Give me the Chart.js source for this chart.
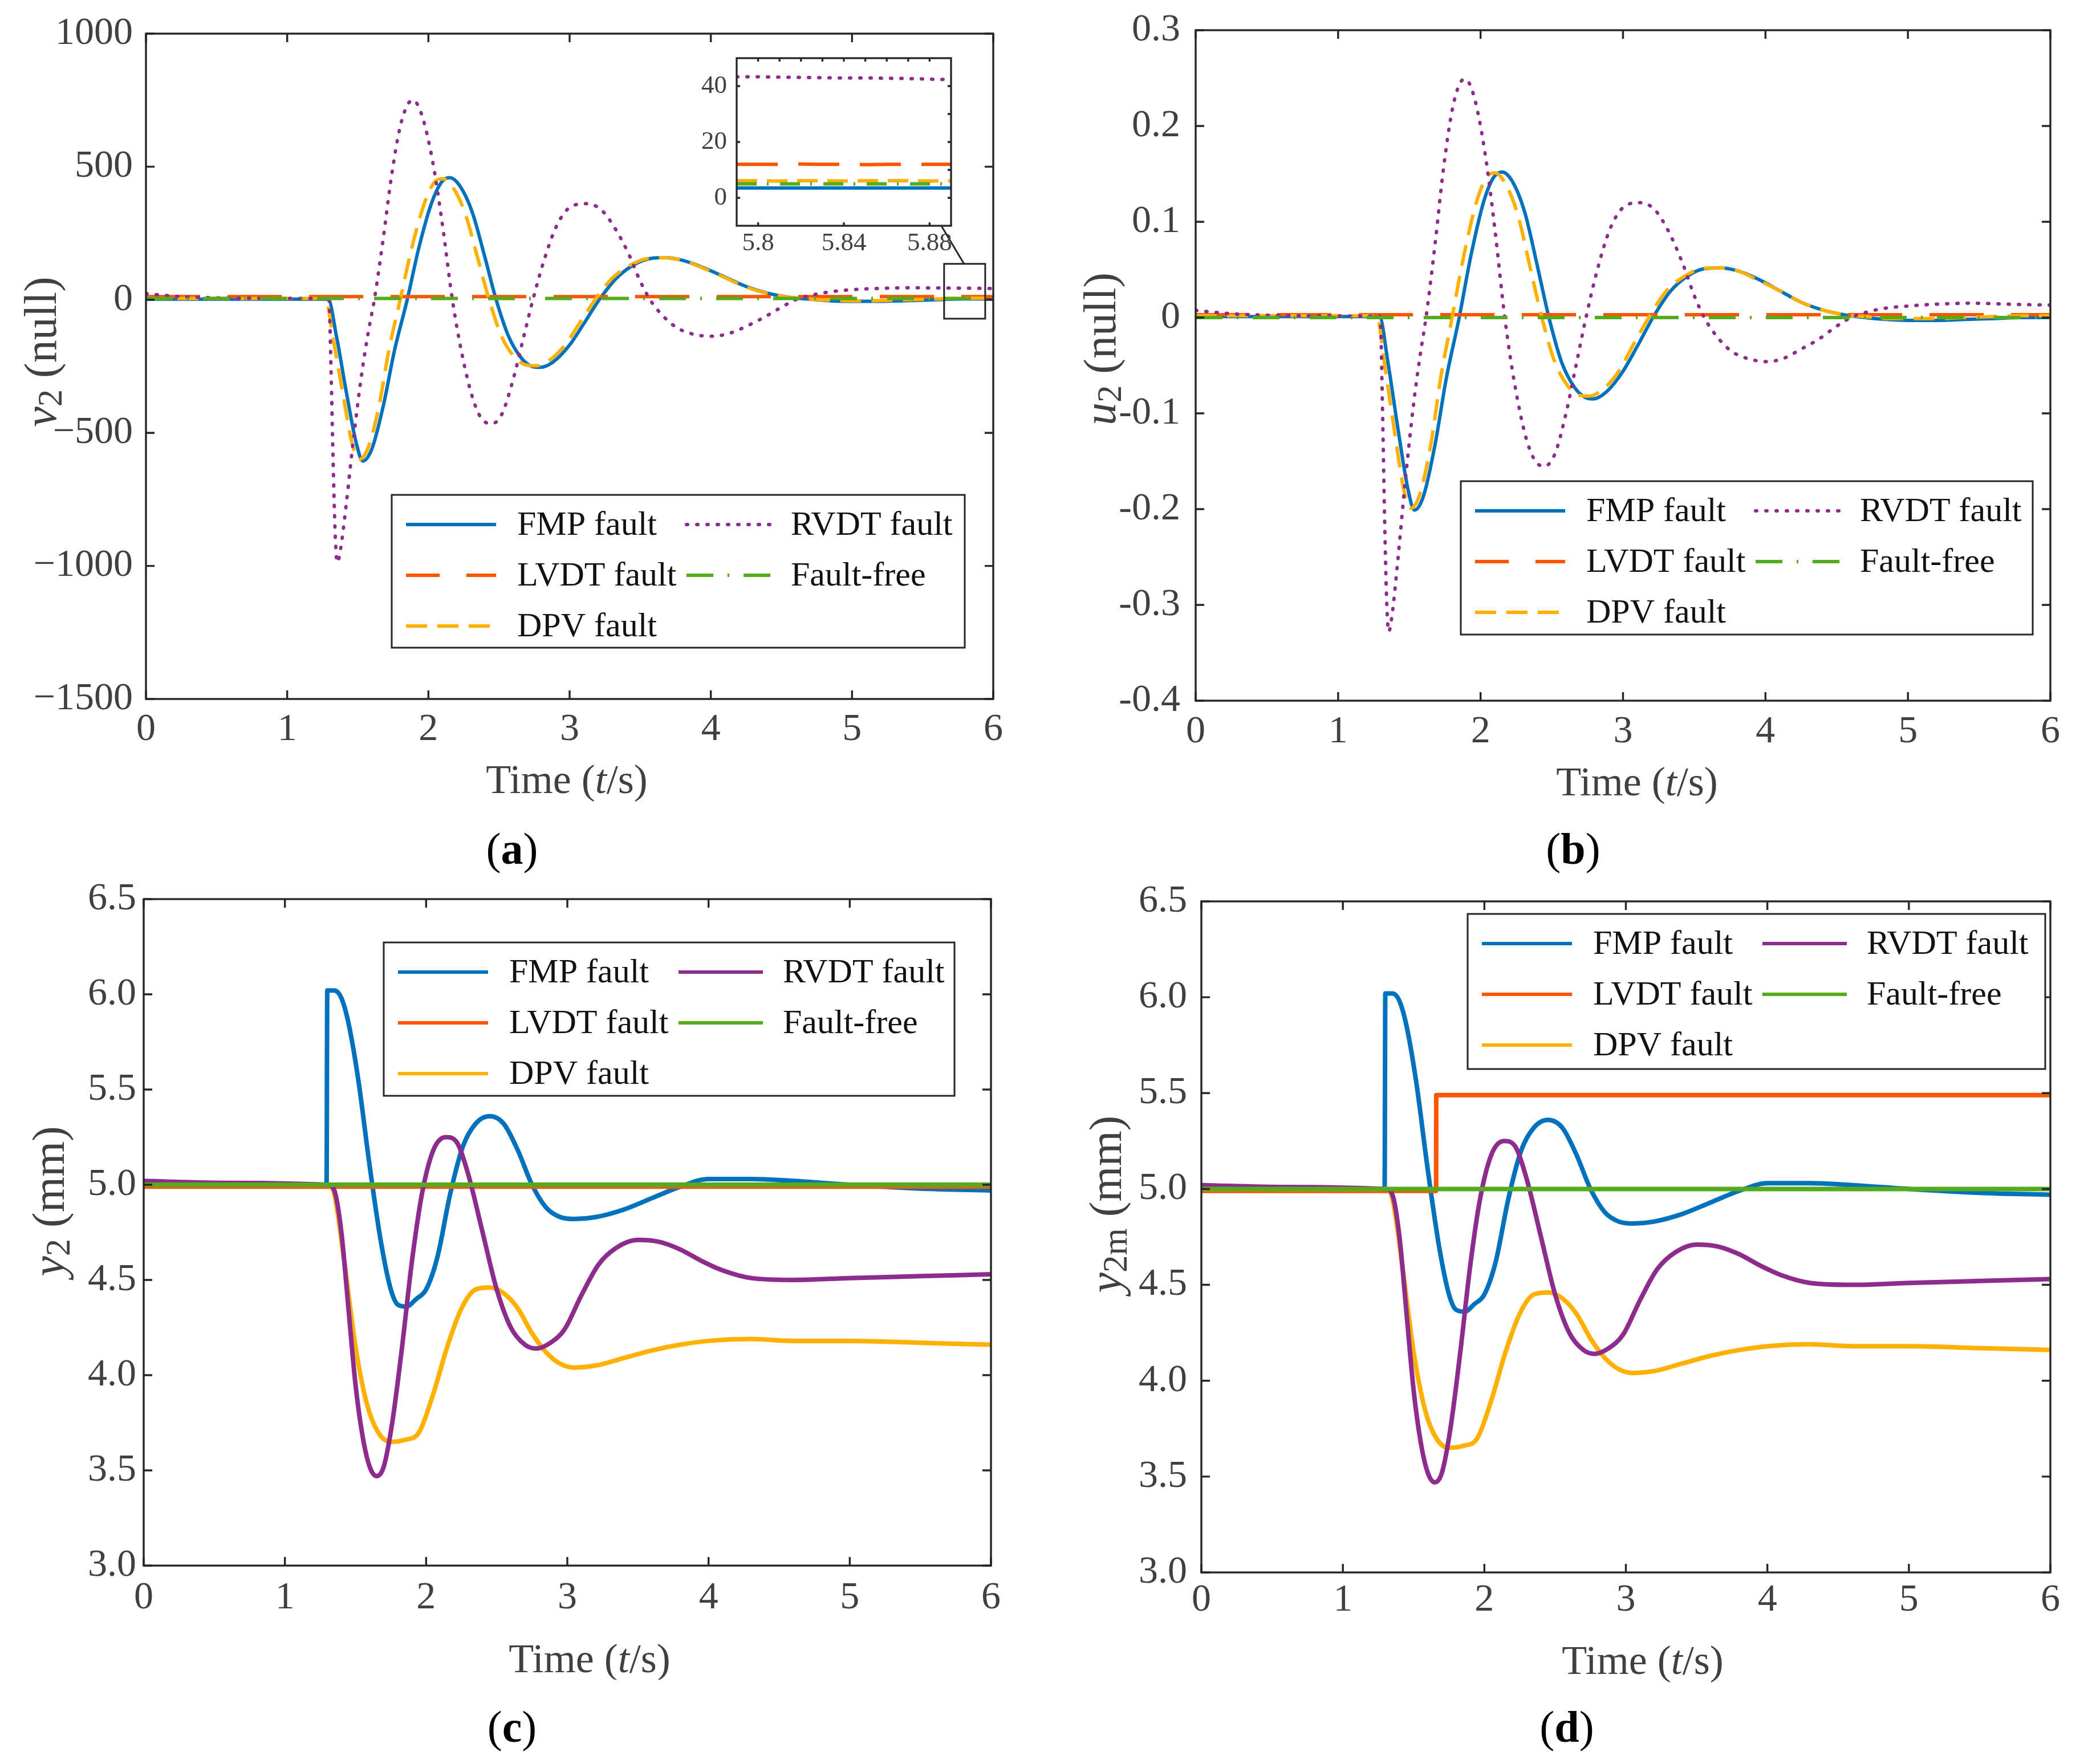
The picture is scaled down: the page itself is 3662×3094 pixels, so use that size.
<!DOCTYPE html>
<html><head><meta charset="utf-8">
<script src="https://cdn.jsdelivr.net/npm/chart.js@4.4.1/dist/chart.umd.min.js"></script>
<style>
html,body{margin:0;padding:0;background:#fff;}
body{width:3662px;height:3094px;position:relative;overflow:hidden;font-family:"Liberation Serif","Times New Roman",serif;}
canvas{position:absolute;}
.plabel{position:absolute;font-size:78px;color:#000;transform:translate(-50%,-50%);white-space:nowrap;line-height:1;}
</style></head><body>
<div class="plabel" style="left:898px;top:1489px">(<b>a</b>)</div>
<div class="plabel" style="left:2759px;top:1489px">(<b>b</b>)</div>
<div class="plabel" style="left:898px;top:3029px">(<b>c</b>)</div>
<div class="plabel" style="left:2748px;top:3029px">(<b>d</b>)</div>
<script>
// ================= DATA =================
const seriesNames = ['FMP fault', 'LVDT fault', 'DPV fault', 'RVDT fault', 'Fault-free'];
const xTicks = [0, 1, 2, 3, 4, 5, 6];
const yTicksA = [-1500, -1000, -500, 0, 500, 1000];
const yTicksB = [-0.4, -0.3, -0.2, -0.1, 0, 0.1, 0.2, 0.3];
const yTicksC = [3.0, 3.5, 4.0, 4.5, 5.0, 5.5, 6.0, 6.5];
const xTicksInset = [5.8, 5.84, 5.88];
const xMinorInset = [5.80, 5.81, 5.82, 5.83, 5.84, 5.85, 5.86, 5.87, 5.88];
const yTicksInset = [0, 20, 40];
const yMinorInset = [0, 10, 20, 30, 40];

// (a) v2
const tA_FMP = [0, 0.6, 1.29, 1.35, 1.42, 1.49, 1.536, 1.60, 1.68, 1.76, 1.85, 1.93, 2.02, 2.09, 2.15, 2.22, 2.31, 2.40, 2.48, 2.57, 2.66, 2.73, 2.79, 2.88, 3.00, 3.10, 3.21, 3.33, 3.45, 3.57, 3.68, 3.80, 3.95, 4.10, 4.25, 4.40, 4.55, 4.70, 4.85, 5.00, 5.20, 5.40, 5.60, 5.80, 6.00];
const vA_FMP = [2, 2, 2, -140, -350, -540, -606, -560, -400, -190, 0, 190, 360, 440, 459, 430, 330, 160, 0, -140, -220, -250, -254, -235, -170, -90, 0, 80, 130, 155, 158, 148, 120, 85, 50, 25, 10, 2, -4, -6, -6, -3, 0, 3.5, 3.5];
const tA_DPV = [0, 0.6, 1.27, 1.33, 1.40, 1.46, 1.51, 1.57, 1.65, 1.72, 1.80, 1.88, 1.97, 2.04, 2.10, 2.17, 2.26, 2.35, 2.43, 2.52, 2.61, 2.69, 2.76, 2.85, 2.97, 3.07, 3.18, 3.30, 3.43, 3.55, 3.67, 3.80, 3.95, 4.10, 4.25, 4.40, 4.55, 4.70, 4.85, 5.00, 5.20, 5.40, 5.60, 5.80, 6.00];
const vA_DPV = [5, 5, 5, -160, -370, -540, -600, -560, -400, -190, 0, 190, 360, 440, 455, 425, 325, 155, 0, -140, -215, -245, -248, -230, -168, -88, 0, 80, 130, 155, 158, 147, 118, 83, 48, 24, 10, 3, -2, -4, -3, 0, 3, 6, 6];
const tA_RVDT = [0, 0.1, 0.25, 0.45, 0.7, 1.0, 1.295, 1.31, 1.325, 1.34, 1.355, 1.38, 1.42, 1.47, 1.53, 1.575, 1.617, 1.68, 1.74, 1.80, 1.85, 1.89, 1.95, 2.03, 2.10, 2.17, 2.24, 2.32, 2.39, 2.45, 2.52, 2.60, 2.67, 2.74, 2.82, 2.91, 3.01, 3.12, 3.22, 3.32, 3.42, 3.50, 3.57, 3.66, 3.76, 3.88, 4.01, 4.12, 4.25, 4.38, 4.50, 4.60, 4.72, 4.85, 5.00, 5.20, 5.45, 5.70, 6.00];
const vA_RVDT = [23, 18, 12, 8, 6, 5, 5, -250, -600, -880, -987, -930, -760, -520, -270, -120, 0, 230, 470, 650, 730, 750, 700, 520, 280, 0, -210, -380, -455, -465, -430, -300, -150, 0, 150, 280, 350, 361, 340, 270, 170, 70, 0, -60, -105, -130, -137, -128, -100, -65, -28, 0, 18, 30, 38, 43, 45, 44, 42.5];
const tA_LVDT = [0, 1, 2, 3, 4, 5, 6];
const vA_LVDT = [12, 12, 12, 12, 12, 12, 12];
const tA_FF = [0, 1, 2, 3, 4, 5, 6];
const vA_FF = [5, 5, 5, 5, 5, 5, 5];

// (a) inset, 5.79 .. 5.89 s
const tInset = [5.79, 5.80, 5.81, 5.82, 5.83, 5.84, 5.85, 5.86, 5.87, 5.88, 5.89];
const vIn_FMP = [3.5, 3.5, 3.5, 3.5, 3.5, 3.5, 3.5, 3.5, 3.5, 3.5, 3.5];
const vIn_LVDT = [12.0, 12.0, 12.0, 12.1, 12.0, 12.0, 11.9, 12.0, 12.0, 12.0, 12.0];
const vIn_DPV = [6.1, 6.1, 6.0, 6.1, 6.1, 6.0, 6.1, 6.1, 6.1, 6.0, 6.1];
const vIn_RVDT = [43.3, 43.3, 43.2, 43.1, 43.0, 42.9, 42.9, 42.8, 42.7, 42.5, 42.3];
const vIn_FF = [5.0, 5.0, 5.0, 5.0, 5.0, 5.0, 5.0, 5.0, 5.0, 5.0, 5.0];

// (b) u2
const vB_FMP = [0.001, 0.001, 0.001, -0.047, -0.116, -0.179, -0.201, -0.186, -0.133, -0.063, 0, 0.063, 0.12, 0.146, 0.152, 0.143, 0.11, 0.053, 0, -0.047, -0.073, -0.083, -0.085, -0.078, -0.056, -0.03, 0, 0.027, 0.043, 0.051, 0.052, 0.049, 0.04, 0.028, 0.016, 0.008, 0.003, 0, -0.002, -0.003, -0.003, -0.002, -0.001, 0, 0];
const vB_DPV = [0.002, 0.002, 0.002, -0.053, -0.123, -0.179, -0.199, -0.186, -0.133, -0.063, 0, 0.063, 0.12, 0.146, 0.151, 0.141, 0.108, 0.051, 0, -0.046, -0.071, -0.081, -0.082, -0.076, -0.056, -0.029, 0, 0.027, 0.043, 0.051, 0.052, 0.049, 0.039, 0.028, 0.016, 0.008, 0.003, 0.001, -0.001, -0.001, -0.001, 0, 0.001, 0.002, 0.002];
const vB_RVDT = [0.0076, 0.006, 0.004, 0.0027, 0.002, 0.0017, 0.0017, -0.083, -0.2, -0.292, -0.328, -0.309, -0.252, -0.173, -0.09, -0.04, 0, 0.076, 0.156, 0.216, 0.243, 0.249, 0.233, 0.173, 0.093, 0, -0.07, -0.126, -0.151, -0.155, -0.143, -0.1, -0.05, 0, 0.05, 0.093, 0.116, 0.12, 0.113, 0.09, 0.056, 0.023, 0, -0.02, -0.035, -0.043, -0.046, -0.043, -0.033, -0.022, -0.009, 0, 0.006, 0.01, 0.012, 0.014, 0.015, 0.014, 0.013];
const vB_LVDT = [0.003, 0.003, 0.003, 0.003, 0.003, 0.003, 0.003];
const vB_FF = [0, 0, 0, 0, 0, 0, 0];

// (c) y2 and (d) y2m
const tC_FMP = [0, 0.6, 1.295, 1.30, 1.35, 1.40, 1.45, 1.52, 1.60, 1.68, 1.75, 1.80, 1.86, 1.93, 2.00, 2.08, 2.17, 2.26, 2.35, 2.45, 2.55, 2.65, 2.75, 2.85, 2.95, 3.05, 3.20, 3.40, 3.60, 3.80, 4.00, 4.30, 4.60, 5.00, 5.50, 6.00];
const vC_FMP = [5.0, 5.0, 5.0, 6.02, 6.02, 5.98, 5.85, 5.55, 5.1, 4.7, 4.45, 4.37, 4.36, 4.40, 4.45, 4.62, 4.95, 5.2, 5.32, 5.36, 5.32, 5.18, 5.0, 4.88, 4.83, 4.82, 4.83, 4.87, 4.93, 4.99, 5.03, 5.03, 5.02, 5.0, 4.98, 4.97];
const tC_DPV = [0, 0.6, 1.30, 1.35, 1.42, 1.50, 1.58, 1.66, 1.75, 1.85, 1.95, 2.05, 2.15, 2.25, 2.35, 2.45, 2.55, 2.65, 2.75, 2.85, 2.95, 3.05, 3.20, 3.40, 3.60, 3.80, 4.00, 4.30, 4.60, 5.00, 5.50, 6.00];
const vC_DPV = [5.0, 5.0, 5.0, 4.95, 4.6, 4.15, 3.85, 3.7, 3.65, 3.66, 3.7, 3.9, 4.15, 4.35, 4.45, 4.46, 4.43, 4.35, 4.22, 4.12, 4.06, 4.04, 4.05, 4.09, 4.13, 4.16, 4.18, 4.19, 4.18, 4.18, 4.17, 4.16];
const tC_RVDT = [0, 0.6, 1.30, 1.35, 1.40, 1.45, 1.50, 1.55, 1.60, 1.65, 1.70, 1.76, 1.83, 1.90, 1.97, 2.05, 2.14, 2.22, 2.30, 2.40, 2.50, 2.60, 2.70, 2.78, 2.88, 2.98, 3.10, 3.22, 3.35, 3.50, 3.65, 3.80, 3.95, 4.10, 4.30, 4.60, 5.00, 5.50, 6.00];
const vC_RVDT = [5.02, 5.01, 5.0, 4.97, 4.75, 4.35, 3.95, 3.68, 3.52, 3.47, 3.52, 3.75, 4.15, 4.6, 4.95, 5.18, 5.25, 5.22, 5.05, 4.75, 4.45, 4.25, 4.16, 4.14, 4.17, 4.24, 4.42, 4.58, 4.67, 4.71, 4.70, 4.66, 4.60, 4.55, 4.51, 4.50, 4.51, 4.52, 4.53];
const tC_LVDT = [0, 1, 2, 3, 4, 5, 6];
const vC_LVDT = [4.99, 4.99, 4.99, 4.99, 4.99, 4.99, 4.99];
const tC_FF = [0, 1, 2, 3, 4, 5, 6];
const vC_FF = [5.0, 5.0, 5.0, 5.0, 5.0, 5.0, 5.0];
const tD_LVDT = [0, 1, 1.659, 1.66, 2, 3, 4, 5, 6];
const vD_LVDT = [4.99, 4.99, 4.99, 5.49, 5.49, 5.49, 5.49, 5.49, 5.49];

// ================= STYLE / BUILD =================
Chart.defaults.font.family = '"Liberation Serif", "Times New Roman", serif';
const TXT = '#404040';
const COL = {FMP:'#0072BD', LVDT:'#FF5500', DPV:'#FFB000', RVDT:'#8E2C8E', FF:'#55AA1E'};

function pts(t, v) { return t.map((x, i) => ({x: x, y: v[i]})); }
function mk(label, t, v, color, width, dash, cap, order) {
  return {label: label, data: pts(t, v), borderColor: color, backgroundColor: color, borderWidth: width,
    borderDash: dash, borderCapStyle: cap || 'butt', pointRadius: 0, fill: false,
    cubicInterpolationMode: 'monotone', order: order};
}
function fmtInt(v) {
  if (Math.abs(v) < 1e-9) return '0';
  return (v < 0 ? '\u2212' : '') + String(Math.abs(Math.round(v)));
}
function fmtDec(v) {
  if (Math.abs(v) < 1e-9) return '0';
  return (v < 0 ? '-' : '') + Math.abs(v).toFixed(1);
}

const framePlugin = {
  id: 'frame',
  beforeDatasetsDraw(chart, args, o) {
    if (!o.fill) return;
    const a = chart.chartArea, ctx = chart.ctx;
    ctx.save(); ctx.fillStyle = o.fill; ctx.fillRect(a.left, a.top, a.right - a.left, a.bottom - a.top); ctx.restore();
  },
  afterDatasetsDraw(chart, args, o) {
    const ctx = chart.ctx, a = chart.chartArea, xs = chart.scales.x, ys = chart.scales.y;
    const L = o.tick || 15;
    const xv = xs.ticks.map(t => t.value), yv = ys.ticks.map(t => t.value);
    const xTop = o.xTop ? Array.from(o.xTop) : xv;
    const yRight = o.yRight ? Array.from(o.yRight) : yv;
    ctx.save();
    ctx.strokeStyle = '#262626'; ctx.lineWidth = o.width || 3.4; ctx.setLineDash([]);
    ctx.beginPath();
    xv.forEach(v => { const p = xs.getPixelForValue(v); ctx.moveTo(p, a.bottom); ctx.lineTo(p, a.bottom - L); });
    xTop.forEach(v => { const p = xs.getPixelForValue(v); ctx.moveTo(p, a.top); ctx.lineTo(p, a.top + L); });
    yv.forEach(v => { const p = ys.getPixelForValue(v); ctx.moveTo(a.left, p); ctx.lineTo(a.left + L, p); });
    yRight.forEach(v => { const p = ys.getPixelForValue(v); ctx.moveTo(a.right, p); ctx.lineTo(a.right - L, p); });
    ctx.stroke();
    ctx.strokeRect(a.left, a.top, a.right - a.left, a.bottom - a.top);
    ctx.restore();
  }
};

const zoomMarkPlugin = {
  id: 'zoomMark',
  afterDatasetsDraw(chart, args, o) {
    if (!o || !o.rect) return;
    const ctx = chart.ctx, xs = chart.scales.x, ys = chart.scales.y;
    const r = o.rect, l = o.line;
    ctx.save();
    ctx.strokeStyle = '#262626'; ctx.lineWidth = 3; ctx.setLineDash([]);
    const x0 = xs.getPixelForValue(r[0]), x1 = xs.getPixelForValue(r[1]);
    const y0 = ys.getPixelForValue(r[3]), y1 = ys.getPixelForValue(r[2]);
    ctx.strokeRect(x0, y0, x1 - x0, y1 - y0);
    ctx.beginPath();
    ctx.moveTo(xs.getPixelForValue(l[0]), ys.getPixelForValue(l[1]));
    ctx.lineTo(xs.getPixelForValue(l[2]), ys.getPixelForValue(l[3]));
    ctx.stroke();
    ctx.restore();
  }
};

const legendPlugin = {
  id: 'boxLegend',
  afterDraw(chart, args, o) {
    if (!o || !o.box) return;
    const ctx = chart.ctx, ox = chart.canvas._ox, oy = chart.canvas._oy;
    const bx = o.box[0] - ox, by = o.box[1] - oy, bw = o.box[2], bh = o.box[3];
    ctx.save();
    ctx.fillStyle = '#fff'; ctx.fillRect(bx, by, bw, bh);
    ctx.strokeStyle = '#262626'; ctx.lineWidth = 3; ctx.setLineDash([]);
    ctx.strokeRect(bx, by, bw, bh);
    const rows = [52, 141, 230];
    const cols = [{l0: 25, l1: 183, t: 220}, {l0: 517, l1: 665, t: 700}];
    const place = [[0, 0], [0, 1], [0, 2], [1, 0], [1, 1]];
    chart.data.datasets.forEach((ds, i) => {
      const c = cols[place[i][0]], y = by + rows[place[i][1]];
      ctx.strokeStyle = ds.borderColor; ctx.lineWidth = o.lw || ds.borderWidth;
      const ld = o.dash ? Array.from(o.dash[i]) : [];
      ctx.setLineDash(ld.length ? ld : (ds.borderDash || []));
      ctx.lineCap = ds.borderCapStyle || 'butt';
      ctx.beginPath(); ctx.moveTo(bx + c.l0, y); ctx.lineTo(bx + c.l1, y); ctx.stroke();
      ctx.setLineDash([]);
      ctx.fillStyle = '#111'; ctx.font = '60px "Liberation Serif", serif';
      ctx.textBaseline = 'middle'; ctx.textAlign = 'left';
      ctx.fillText(ds.label, bx + c.t, y + 2);
    });
    ctx.restore();
  }
};

function drawRich(ctx, segs, size) {
  const parts = [];
  let total = 0;
  for (const s of segs) {
    const fs = s.sub ? size * 0.76 : size;
    const font = (s.i ? 'italic ' : '') + fs + 'px "Liberation Serif", serif';
    ctx.font = font;
    const w = ctx.measureText(s.t).width;
    parts.push({t: s.t, font: font, w: w, dy: s.sub ? size * 0.12 : 0});
    total += w;
  }
  let x = -total / 2;
  const base = size * 0.33;
  ctx.textAlign = 'left'; ctx.textBaseline = 'alphabetic';
  for (const p of parts) { ctx.font = p.font; ctx.fillText(p.t, x, base + p.dy); x += p.w; }
}
const titlePlugin = {
  id: 'richTitles',
  afterDraw(chart, args, o) {
    if (!o || !o.x) return;
    const ctx = chart.ctx, ox = chart.canvas._ox, oy = chart.canvas._oy;
    ctx.save(); ctx.fillStyle = TXT;
    ctx.translate(o.x.cx - ox, o.x.cy - oy); drawRich(ctx, o.x.segs, o.x.size);
    ctx.restore();
    ctx.save(); ctx.fillStyle = TXT;
    ctx.translate(o.y.cx - ox, o.y.cy - oy); ctx.rotate(-Math.PI / 2); drawRich(ctx, o.y.segs, o.y.size);
    ctx.restore();
  }
};

function makeChart(p) {
  const YW = p.yw || 240, PT = p.pt || 90, PR = p.pr || 60, XH = p.xh || 200;
  const left = p.plot.L - YW, top = p.plot.T - PT;
  const w = YW + (p.plot.R - p.plot.L) + PR, h = PT + (p.plot.B - p.plot.T) + XH;
  const cv = document.createElement('canvas');
  cv.width = w; cv.height = h;
  cv.style.left = left + 'px'; cv.style.top = top + 'px';
  cv.style.width = w + 'px'; cv.style.height = h + 'px';
  cv._ox = left; cv._oy = top;
  document.body.appendChild(cv);
  const tickFont = {size: p.tickSize || 68, family: '"Liberation Serif", serif'};
  return new Chart(cv, {
    type: 'line',
    data: {datasets: p.datasets},
    options: {
      responsive: false, animation: false, devicePixelRatio: 1,
      events: [],
      layout: {padding: {top: PT, right: PR, left: 0, bottom: 0}},
      plugins: {
        legend: {display: false}, tooltip: {enabled: false},
        frame: p.frame || {},
        zoomMark: p.zoomMark || {},
        boxLegend: p.legend || {},
        richTitles: p.titles || {}
      },
      scales: {
        x: {type: 'linear', min: p.xmin, max: p.xmax,
          afterBuildTicks: s => { s.ticks = p.xticks.map(v => ({value: v})); },
          afterFit: s => { s.height = XH; },
          grid: {display: false, drawTicks: false}, border: {display: false},
          ticks: {font: tickFont, color: TXT, padding: p.xpad, maxRotation: 0, autoSkip: false, callback: p.xfmt}},
        y: {type: 'linear', min: p.ymin, max: p.ymax,
          afterBuildTicks: s => { s.ticks = p.yticks.map(v => ({value: v})); },
          afterFit: s => { s.width = YW; },
          grid: {display: false, drawTicks: false}, border: {display: false},
          ticks: {font: tickFont, color: TXT, padding: p.ypad, autoSkip: false, callback: p.yfmt}}
      }
    },
    plugins: [framePlugin, zoomMarkPlugin, legendPlugin, titlePlugin]
  });
}

const DASH = {FMP: [], LVDT: [95, 48], DPV: [37, 18], RVDT: [2, 16], FF: [47, 25, 3, 25]};
const LEGDASH = [[], [59, 47], [37, 18], [2, 16], [47, 25, 3, 25]];
function dashedSet(tF, vF, tL, vL, tD, vD, tR, vR, tFF, vFF, lw, dash) {
  return [
    mk(seriesNames[0], tF, vF, COL.FMP, lw, dash.FMP, 'butt', 5),
    mk(seriesNames[1], tL, vL, COL.LVDT, lw, dash.LVDT, 'butt', 4),
    mk(seriesNames[2], tD, vD, COL.DPV, lw, dash.DPV, 'butt', 3),
    mk(seriesNames[3], tR, vR, COL.RVDT, lw, dash.RVDT, dash.RVDT.length ? 'round' : 'butt', 2),
    mk(seriesNames[4], tFF, vFF, COL.FF, lw, dash.FF, 'butt', 1)
  ];
}
const SOLID = {FMP: [], LVDT: [], DPV: [], RVDT: [], FF: []};
const timeSegs = [{t: 'Time ('}, {t: 't', i: true}, {t: '/s)'}];

// (a)
makeChart({
  plot: {L: 256, T: 59, R: 1742, B: 1226},
  datasets: dashedSet(tA_FMP, vA_FMP, tA_LVDT, vA_LVDT, tA_DPV, vA_DPV, tA_RVDT, vA_RVDT, tA_FF, vA_FF, 6, DASH),
  xmin: 0, xmax: 6, xticks: xTicks, xfmt: v => String(v), xpad: 13,
  ymin: -1500, ymax: 1000, yticks: yTicksA, yfmt: v => fmtInt(v), ypad: 23,
  frame: {tick: 15},
  zoomMark: {rect: [5.652, 5.943, -71, 135], line: [5.632, 278, 5.793, 135]},
  legend: {box: [687, 868, 1005, 268], dash: LEGDASH},
  titles: {x: {segs: timeSegs, cx: 994, cy: 1367, size: 72},
           y: {segs: [{t: 'v', i: true}, {t: '2', sub: true}, {t: ' (null)'}], cx: 72, cy: 617, size: 80}}
});
// (a) inset
makeChart({
  plot: {L: 1292, T: 102, R: 1668, B: 396}, yw: 90, pt: 60, pr: 70, xh: 70, tickSize: 45,
  datasets: dashedSet(tInset, vIn_FMP, tInset, vIn_LVDT, tInset, vIn_DPV, tInset, vIn_RVDT, tInset, vIn_FF, 6,
                      {FMP: [], LVDT: [72, 36], DPV: [36, 17], RVDT: [2, 16], FF: [35, 18, 3, 20]}),
  xmin: 5.79, xmax: 5.89, xticks: xTicksInset, xfmt: v => String(Math.round(v * 100) / 100), xpad: 4,
  ymin: -10, ymax: 50, yticks: yTicksInset, yfmt: v => String(v), ypad: 17,
  frame: {tick: 6, width: 3.3, fill: '#ffffff', xTop: xMinorInset, yRight: yMinorInset}
});
// (b)
makeChart({
  plot: {L: 2097, T: 53, R: 3596, B: 1229},
  datasets: dashedSet(tA_FMP, vB_FMP, tA_LVDT, vB_LVDT, tA_DPV, vB_DPV, tA_RVDT, vB_RVDT, tA_FF, vB_FF, 6, DASH),
  xmin: 0, xmax: 6, xticks: xTicks, xfmt: v => String(v), xpad: 14,
  ymin: -0.4, ymax: 0.3, yticks: yTicksB, yfmt: v => fmtDec(v), ypad: 27,
  frame: {tick: 15},
  legend: {box: [2562, 844, 1003, 269], dash: LEGDASH},
  titles: {x: {segs: timeSegs, cx: 2871, cy: 1371, size: 72},
           y: {segs: [{t: 'u', i: true}, {t: '2', sub: true}, {t: ' (null)'}], cx: 1930, cy: 612, size: 80}}
});
// (c)
makeChart({
  plot: {L: 252, T: 1577, R: 1738, B: 2746},
  datasets: dashedSet(tC_FMP, vC_FMP, tC_LVDT, vC_LVDT, tC_DPV, vC_DPV, tC_RVDT, vC_RVDT, tC_FF, vC_FF, 8, SOLID),
  xmin: 0, xmax: 6, xticks: xTicks, xfmt: v => String(v), xpad: 16,
  ymin: 3.0, ymax: 6.5, yticks: yTicksC, yfmt: v => v.toFixed(1), ypad: 13,
  frame: {tick: 15},
  legend: {box: [673, 1653, 1001, 269], lw: 6},
  titles: {x: {segs: timeSegs, cx: 1034, cy: 2909, size: 72},
           y: {segs: [{t: 'y', i: true}, {t: '2', sub: true}, {t: ' (mm)'}], cx: 86, cy: 2107, size: 80}}
});
// (d)
makeChart({
  plot: {L: 2107, T: 1581, R: 3596, B: 2758},
  datasets: dashedSet(tC_FMP, vC_FMP, tD_LVDT, vD_LVDT, tC_DPV, vC_DPV, tC_RVDT, vC_RVDT, tC_FF, vC_FF, 8, SOLID),
  xmin: 0, xmax: 6, xticks: xTicks, xfmt: v => String(v), xpad: 8,
  ymin: 3.0, ymax: 6.5, yticks: yTicksC, yfmt: v => v.toFixed(1), ypad: 25,
  frame: {tick: 15},
  legend: {box: [2574, 1603, 1013, 272], lw: 6},
  titles: {x: {segs: timeSegs, cx: 2881, cy: 2912, size: 72},
           y: {segs: [{t: 'y', i: true}, {t: '2m', sub: true}, {t: ' (mm)'}], cx: 1940, cy: 2112, size: 80}}
});
</script>
</body></html>
